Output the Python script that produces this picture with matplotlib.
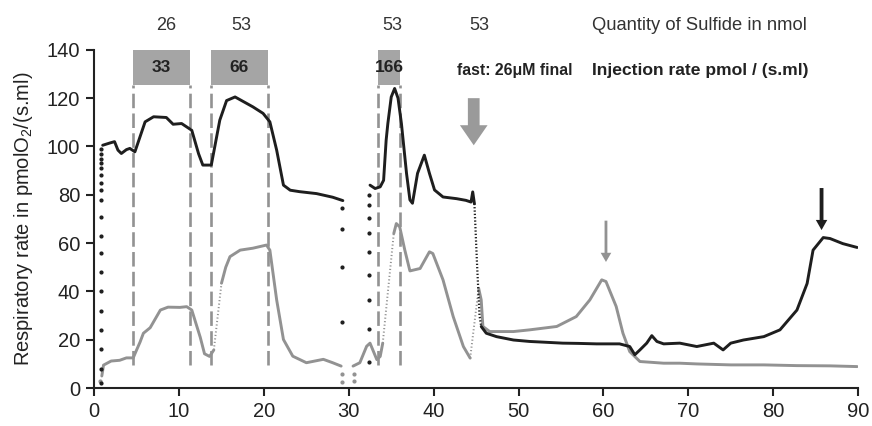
import numpy as np
import matplotlib
matplotlib.use("Agg")
import matplotlib.pyplot as plt
from matplotlib.patches import Rectangle, FancyArrow

plt.rcParams['font.family'] = ['Liberation Sans', 'DejaVu Sans']
plt.rcParams['mathtext.default'] = 'regular'

# ---- black trace (three continuous pieces) ----
black_a_x = [1.0, 1.9, 2.4, 2.8, 3.2, 3.8, 4.2, 4.8, 5.4, 6.0, 7.0, 8.5, 9.3, 10.3, 11.5,
             12.3, 12.8, 13.8, 14.8, 15.6, 16.6, 18.7, 19.9, 20.7, 21.5, 22.3, 23.1,
             24.2, 26.2, 28.1, 29.3]
black_a_y = [100.5, 101.5, 102, 98.5, 97.1, 98.7, 99.2, 97.8, 104, 110.2, 112.3, 112,
             109.2, 109.5, 106.7, 97, 92.3, 92.3, 110.9, 119, 120.5, 116.4, 113.7,
             110.2, 98.5, 84, 81.9, 81.3, 80.5, 79, 77.6]
black_b_x = [32.5, 33.1, 33.7, 34.1, 34.4, 34.6, 35.0, 35.4, 35.8, 36.2, 36.8, 37.2,
             37.5, 38.1, 38.9, 39.5, 40.1, 41.1, 42.7, 43.8, 44.4, 44.6, 44.8]
black_b_y = [84, 82.6, 83.3, 86, 102.6, 109.5, 120.5, 124, 120, 109.5, 88.9, 77.9,
             76.5, 88.9, 96.4, 88.9, 82, 79.1, 78.4, 77.7, 77, 81.2, 76.3]
black_c_x = [45.6, 46.2, 47.4, 49.4, 51.3, 53.0, 55.2, 57.0, 59.2, 61.9, 63.1, 63.7,
             64.3, 65.1, 65.7, 66.3, 67.1, 69.0, 71.0, 73.0, 74.1, 75.0, 76.5, 78.9,
             80.8, 82.8, 84.0, 84.7, 85.9, 86.7, 88.2, 89.9]
black_c_y = [25.5, 22.7, 21.3, 19.9, 19.3, 19.0, 18.6, 18.5, 18.3, 18.3, 17.2, 13.8,
             15.8, 18.6, 21.7, 19.3, 18.3, 18.6, 17.2, 18.6, 15.8, 18.6, 19.9, 21.3,
             24.1, 32.3, 43.3, 57.1, 62.3, 61.9, 59.8, 58.2]
# fast drop after the bolus (sparse sampling)
black_fast_x = [44.8, 45.1, 45.4, 45.6]
black_fast_y = [76.3, 52, 30, 25.5]

# ---- grey trace ----
grey_a_x = [0.9, 1.1, 2.0, 3.0, 3.8, 4.6, 5.0, 5.4, 5.8, 6.6, 7.8, 8.7, 10.1, 10.9,
            11.5, 12.5, 13.0, 13.6, 14.1]
grey_a_y = [5, 9.5, 11.2, 11.5, 12.5, 12.5, 15.8, 19, 22.7, 25, 32.3, 33.5, 33.4,
            33.7, 32.3, 21, 14.2, 13.1, 15.8]
grey_b_x = [15.0, 15.5, 16.0, 17.2, 18.7, 20.3, 20.7, 21.5, 22.3, 23.4, 25.0, 27.0,
            28.1, 29.1]
grey_b_y = [43.4, 50, 54.4, 57.1, 57.9, 59.2, 57.1, 36.5, 20.1, 13.2, 10.5, 11.9,
            10.5, 9.1]
grey_c_x = [30.5, 31.3, 32.1, 32.5, 33.3, 33.7, 34.0]
grey_c_y = [9.1, 10.5, 17.3, 18.6, 11.8, 13.1, 18.6]
grey_d_x = [35.3, 35.6, 36.0, 36.6, 37.2, 38.4, 39.5, 39.9, 41.1, 42.3, 43.5, 44.3]
grey_d_y = [64, 68.1, 66.7, 57.1, 48.5, 49.5, 56.4, 55.7, 44.8, 29.6, 17.2, 12.4]
grey_e_x = [45.3, 45.6, 45.8, 46.6, 49.4, 51.3, 54.5, 56.8, 58.4, 59.8, 60.3, 61.5,
            62.3, 63.1, 64.3, 67.1, 69.0, 71.0, 75.0, 78.9, 82.8, 86.7, 89.9]
grey_e_y = [41.3, 36.5, 25.5, 23.4, 23.4, 24.1, 25.5, 29.6, 36.5, 44.8, 44.1, 33.8,
            22.7, 15.1, 11, 10.3, 10.3, 10, 9.6, 9.6, 9.3, 9.2, 8.9]
grey_fast_x = [[14.1, 15.0], [34.0, 35.3], [44.3, 45.3]]
grey_fast_y = [[15.8, 43.4], [18.6, 64], [12.4, 41.3]]

# sparse points while the chamber is opened / closed
black_dots_x = [0.8] * 19 + [29.2] * 4 + [32.4] * 9
black_dots_y = [2, 8, 16, 24, 32, 40, 48, 56, 63, 71, 78, 82, 85, 88, 91, 93, 95, 97, 99,
                74.5, 65.8, 50.2, 27.4,
                11, 24.4, 36.5, 46.8, 56.2, 64, 70.2, 75.7, 80]
grey_dots_x = [0.7, 29.2, 29.2, 30.6, 30.6]
grey_dots_y = [3, 6, 2.5, 3, 6]

# ---- injections ----
inj_start = [4.6, 13.75, 33.4]
inj_end = [11.3, 20.45, 36.05]
inj_rate = ['33', '66', '166']
sulfide_nmol = ['26', '53', '53', '53']
sulfide_x = [8.45, 17.3, 35.1, 45.4]

BLACK = '#1e1e1e'
GREY = '#929292'
BOX = '#a5a5a5'

fig = plt.figure(figsize=(8.72, 4.26), dpi=100)
ax = fig.add_axes([0.108, 0.089, 0.876, 0.794])

# injection boxes and dashed markers
for s, e, r in zip(inj_start, inj_end, inj_rate):
    ax.add_patch(Rectangle((s, 125.3), e - s, 14.7, facecolor=BOX, edgecolor='none',
                           zorder=1, clip_on=False))
    ax.text((s + e) / 2, 132.6, r, ha='center', va='center', fontsize=12.5,
            fontweight='bold', color='#222222', zorder=3)
    ax.vlines([s, e], 9.6, 125.3, colors=GREY, linewidth=1.9,
              linestyles=(0, (5.5, 2)), zorder=1)

# traces
lw = 2.1
for xs, ys in [(grey_a_x, grey_a_y), (grey_b_x, grey_b_y), (grey_c_x, grey_c_y),
               (grey_d_x, grey_d_y), (grey_e_x, grey_e_y)]:
    ax.plot(xs, ys, color=GREY, linewidth=lw, solid_capstyle='round', zorder=2)
for xs, ys in zip(grey_fast_x, grey_fast_y):
    ax.plot(xs, ys, color=GREY, linewidth=1.4, linestyle=(0, (0.6, 1.2)), zorder=2)
ax.plot(grey_dots_x, grey_dots_y, 'o', color=GREY, markersize=2, zorder=2)

for xs, ys in [(black_a_x, black_a_y), (black_b_x, black_b_y), (black_c_x, black_c_y)]:
    ax.plot(xs, ys, color=BLACK, linewidth=lw, solid_capstyle='round', zorder=4)
ax.plot(black_fast_x, black_fast_y, color=BLACK, linewidth=1.6,
        linestyle=(0, (0.6, 0.9)), zorder=4)
ax.plot(black_dots_x, black_dots_y, 'o', color=BLACK, markersize=2, zorder=4)

# arrows
ax.add_patch(FancyArrow(44.72, 120, 0, -19.5, width=1.38, head_width=3.26,
                        head_length=8.3, length_includes_head=True,
                        facecolor='#9a9a9a', edgecolor='none', zorder=5))
ax.add_patch(FancyArrow(60.3, 69.3, 0, -17.1, width=0.33, head_width=1.25,
                        head_length=3.8, length_includes_head=True,
                        facecolor=GREY, edgecolor='none', zorder=5))
ax.add_patch(FancyArrow(85.7, 82.8, 0, -17.4, width=0.45, head_width=1.35,
                        head_length=4.2, length_includes_head=True,
                        facecolor=BLACK, edgecolor='none', zorder=5))

# annotations above the plot
for x, q in zip(sulfide_x, sulfide_nmol):
    ax.text(x, 150, q, ha='center', va='center', fontsize=13, color='#333333',
            clip_on=False)
ax.text(58.7, 150, 'Quantity of Sulfide in nmol', ha='left', va='center',
        fontsize=13.2, color='#333333', clip_on=False)
ax.text(58.7, 131.6, 'Injection rate pmol / (s.ml)', ha='left', va='center',
        fontsize=12.6, fontweight='bold', color='#222222')
ax.text(42.7, 131.6, 'fast: 26\u03bcM final', ha='left', va='center',
        fontsize=11.4, fontweight='bold', color='#222222')

ax.set_xlim(0, 90)
ax.set_ylim(0, 140)
ax.set_xticks(np.arange(0, 91, 10))
ax.set_yticks(np.arange(0, 141, 20))
ax.tick_params(direction='out', length=6, width=1.5, labelsize=14.5,
               colors='#222222', pad=4)
for side in ['top', 'right']:
    ax.spines[side].set_visible(False)
for side in ['left', 'bottom']:
    ax.spines[side].set_linewidth(1.5)
    ax.spines[side].set_color('#222222')

ax.set_ylabel('Respiratory rate in pmolO$_2$/(s.ml)', fontsize=14.5, color='#222222')
ax.yaxis.set_label_coords(-0.078, 0.5)

fig.savefig('out.png', dpi=100)
